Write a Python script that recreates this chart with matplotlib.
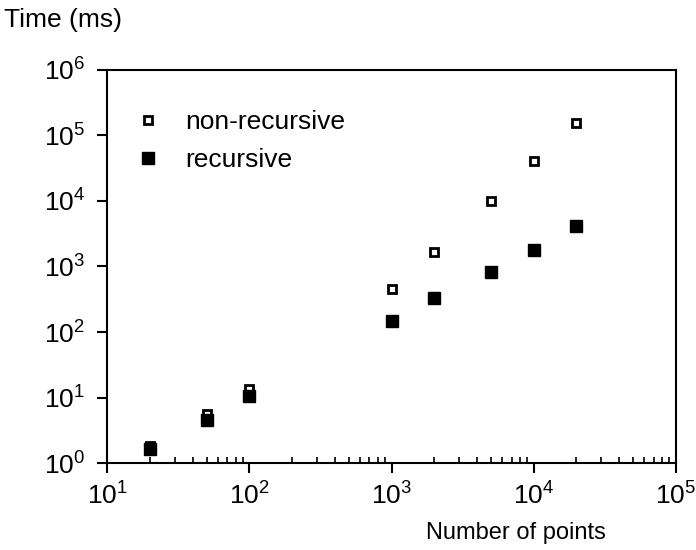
import matplotlib
matplotlib.use("Agg")
import matplotlib.pyplot as plt
from matplotlib.ticker import LogLocator, NullFormatter

plt.rcParams['font.family'] = ['Liberation Sans', 'DejaVu Sans']
plt.rcParams['mathtext.fontset'] = 'custom'
plt.rcParams['mathtext.rm'] = 'Liberation Sans'
plt.rcParams['mathtext.it'] = 'Liberation Sans'

# data
points = [20, 50, 100, 1000, 2000, 5000, 10000, 20000]
non_recursive = [1.8, 5.6, 13.5, 450, 1650, 10000, 40000, 155000]
recursive = [1.64, 4.6, 10.5, 147, 330, 830, 1780, 4150]

fig = plt.figure(figsize=(6.96, 5.5), dpi=100)
ax = fig.add_axes([0.154, 0.158, 0.817, 0.715])

ax.plot(points, non_recursive, 's', markerfacecolor='white', markeredgecolor='black',
        markeredgewidth=2, markersize=6, label='non-recursive', zorder=3)
ax.plot(points, recursive, 's', color='black', markersize=8, label='recursive', zorder=4)

ax.set_xscale('log')
ax.set_yscale('log')
ax.set_xlim(10, 1e5)
ax.set_ylim(1, 1e6)

ax.xaxis.set_major_locator(LogLocator(base=10, numticks=10))
ax.xaxis.set_minor_locator(LogLocator(base=10, subs=range(2, 10), numticks=20))
ax.xaxis.set_minor_formatter(NullFormatter())
ax.yaxis.set_major_locator(LogLocator(base=10, numticks=10))
ax.yaxis.set_minor_locator(LogLocator(base=10, subs=[], numticks=10))

ax.tick_params(axis='both', which='major', direction='out', length=7, width=1.5,
               labelsize=19)
ax.tick_params(axis='y', which='major', pad=9)
ax.tick_params(axis='x', which='major', pad=7)
ax.tick_params(axis='x', which='minor', direction='in', length=4, width=1.2)
for s in ax.spines.values():
    s.set_linewidth(1.5)

ax.legend(loc='upper left', frameon=False, fontsize=19,
          bbox_to_anchor=(0.035, 0.925), handletextpad=1.0, labelspacing=0.55,
          numpoints=1, handlelength=0.8, borderaxespad=0)

fig.text(0.006, 0.963, 'Time (ms)', fontsize=19, va='center', ha='left')
fig.text(0.87, 0.03, 'Number of points', fontsize=17, va='center', ha='right')

fig.savefig('out.png', dpi=100)
